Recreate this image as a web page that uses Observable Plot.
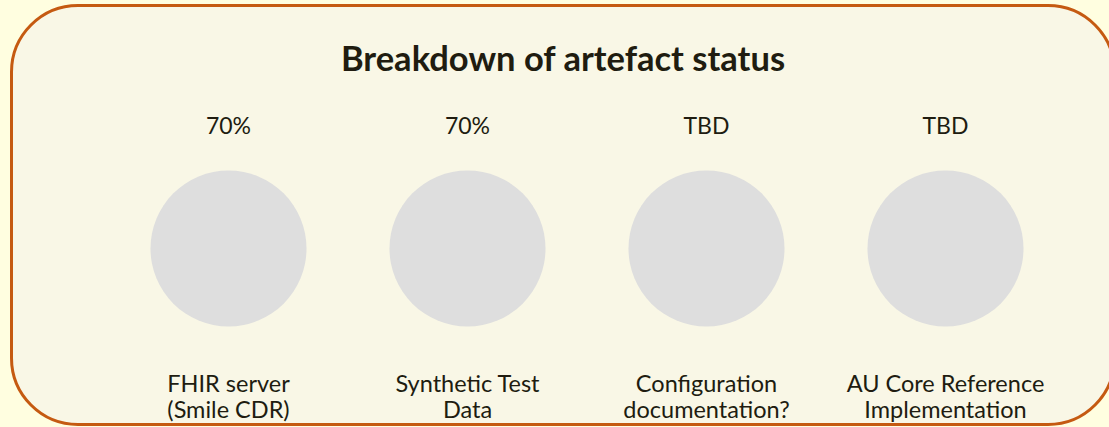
<!DOCTYPE html>
<html>
<head>
<meta charset="utf-8">
<script src="https://cdn.jsdelivr.net/npm/d3@7"></script>
<script src="https://cdn.jsdelivr.net/npm/@observablehq/plot@0.6"></script>
<style>
  html, body { margin: 0; padding: 0; background: #FFFEE0; }
  #wrap { position: relative; width: 1109px; height: 427px; overflow: hidden; background: #FFFEE0; }
  #panel { position: absolute; left: 10px; top: 4px; width: 1100px; height: 416px;
           border: 3px solid #C55A11; border-radius: 68px; background: #F9F7E6; }
  #title { position: absolute; left: 0; width: 1126px; top: 38px; text-align: center;
           font-family: Lato, sans-serif; font-weight: bold; font-size: 34.5px; color: #201C10; line-height: 40px; }
  #chart { position: absolute; left: 0; top: 0; }
</style>
</head>
<body>
<div id="wrap">
  <div id="panel"></div>
  <div id="title">Breakdown of artefact status</div>
  <div id="chart"></div>
</div>
<script>
const categories = ["FHIR server\n(Smile CDR)", "Synthetic Test\nData", "Configuration\ndocumentation?", "AU Core Reference\nImplementation"];
const statusLabels = ["70%", "70%", "TBD", "TBD"];

const rows = categories.map((c, i) => ({category: c, status: statusLabels[i]}));
const ink = "#201C10";

const chart = Plot.plot({
  width: 1109,
  height: 427,
  marginTop: 0,
  marginBottom: 0,
  marginLeft: 228,
  marginRight: 164,
  x: {type: "point", domain: categories, padding: 0, axis: null},
  style: {background: "transparent", fontFamily: "Lato, sans-serif", color: ink},
  marks: [
    Plot.dot(rows, {x: "category", frameAnchor: "top", dy: 248, r: 78, fill: "#DEDEDE", stroke: "none"}),
    Plot.text(rows, {x: "category", text: "status", frameAnchor: "top", dy: 126, lineAnchor: "middle", fontSize: 23, fill: ink}),
    Plot.text(rows, {x: "category", text: "category", frameAnchor: "top", dy: 396, lineAnchor: "middle", lineHeight: 1.13, fontSize: 23.5, fill: ink})
  ]
});
document.getElementById("chart").appendChild(chart);
</script>
</body>
</html>
